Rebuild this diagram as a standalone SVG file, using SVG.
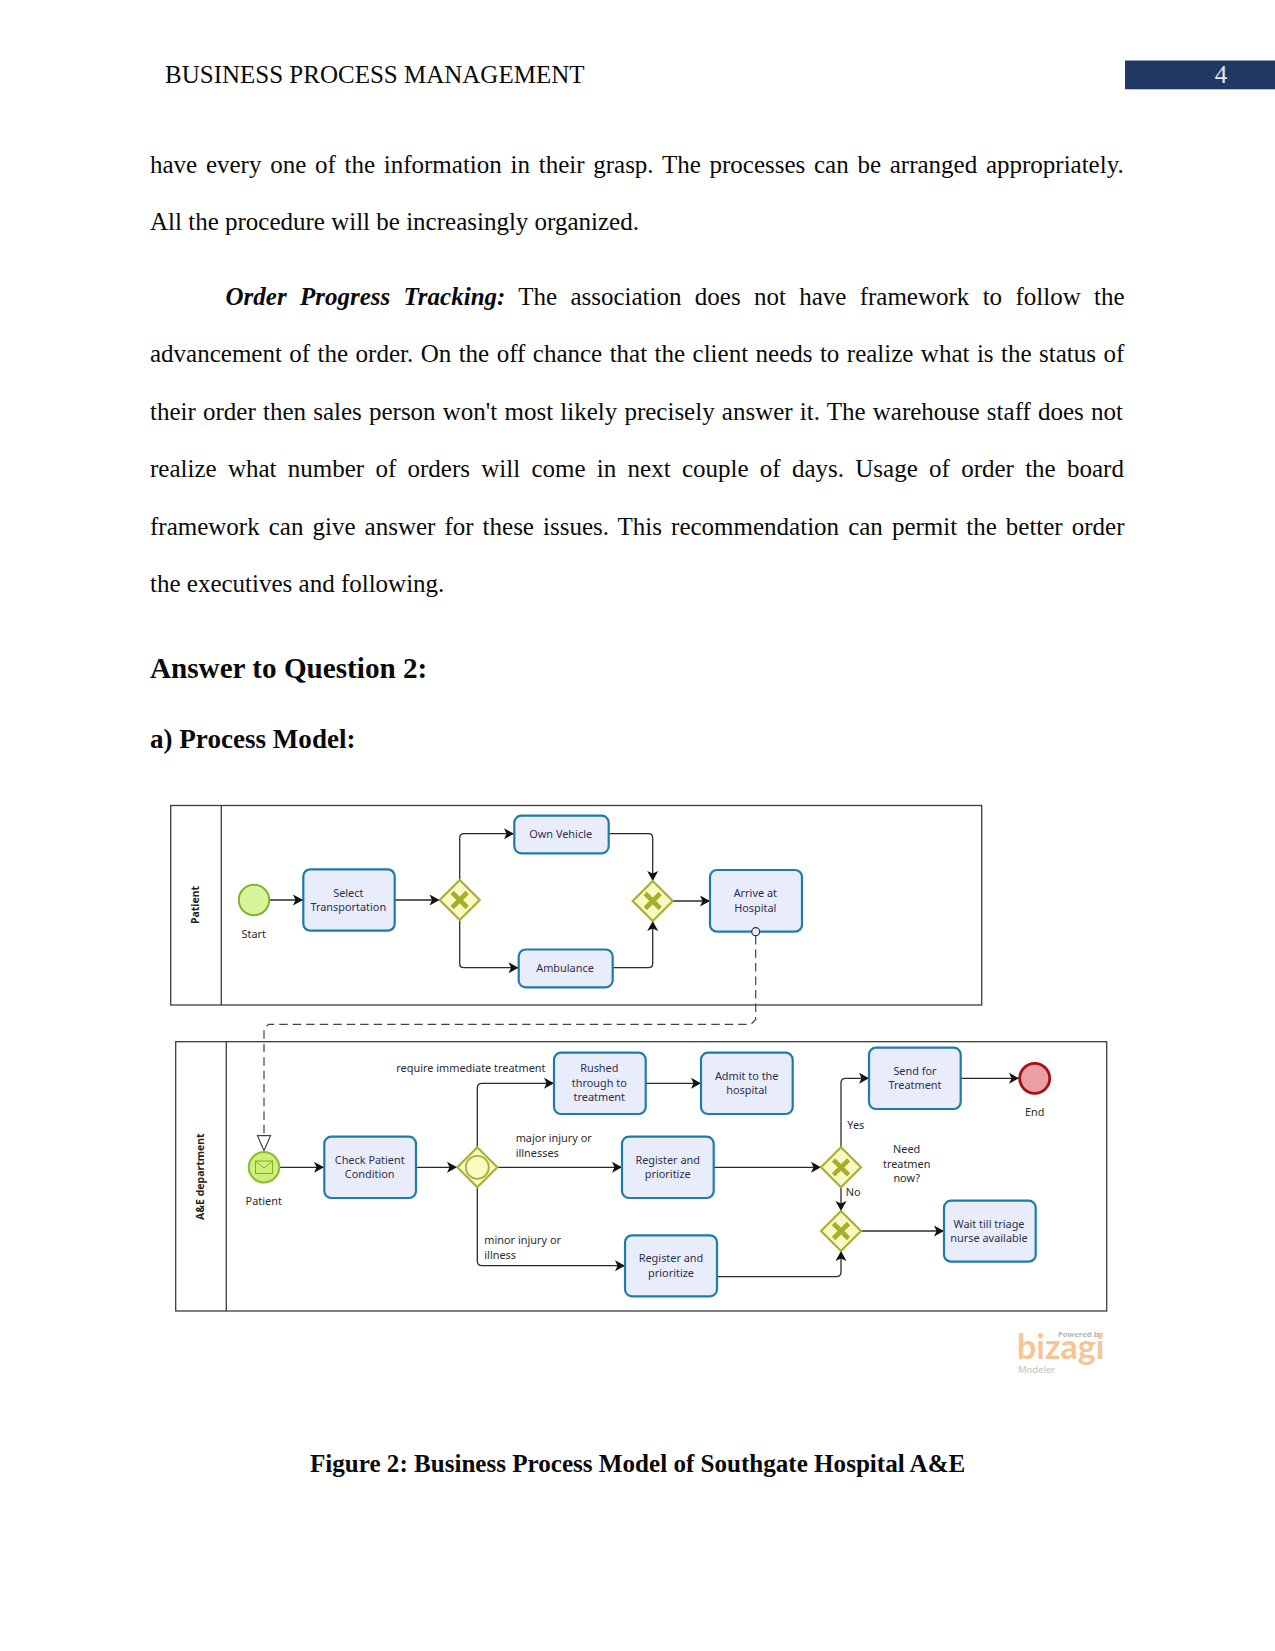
<svg xmlns="http://www.w3.org/2000/svg" width="1275" height="1651" viewBox="0 0 1275 1651">
<style>
.b{font-family:"Liberation Serif","Times New Roman",serif;font-size:25px;fill:#0a0a0a}
.h{font-weight:bold}
.d{font-family:"Noto Sans","Open Sans",sans-serif;font-size:10.9px;fill:#2b2b2b}
.t{font-family:"Noto Sans","Open Sans",sans-serif;font-size:10.9px;fill:#2f2f4a;text-anchor:middle}
.m{text-anchor:middle}
.r{font-family:"Noto Sans","Open Sans",sans-serif;font-size:10.5px;font-weight:bold;fill:#222;text-anchor:middle}
.pool{fill:#fff;stroke:#3c3c3c;stroke-width:1.3}
.task{fill:#e9edfb;stroke:#1f7ba8;stroke-width:2.2}
.gw{fill:#f9f9c4;stroke:#a9b032;stroke-width:2.2}
.x{fill:none;stroke:#a8ad2a;stroke-width:4.6}
.c{fill:none;stroke:#2b2b2b;stroke-width:1.3}
.dash{fill:none;stroke:#444;stroke-width:1.2;stroke-dasharray:8.5 5}
</style>
<defs>
<marker id="arrow" markerUnits="userSpaceOnUse" markerWidth="13" markerHeight="13" refX="10.5" refY="6.5" orient="auto"><path d="M0.5 1 L10.5 6.5 L0.5 12 L3 6.5 Z" fill="#111"/></marker>
<path id="xg" d="M-7.5 -7.5 L7.5 7.5 M-7.5 7.5 L7.5 -7.5" class="x"/>
<path id="dm" d="M0 -20 L20 0 L0 20 L-20 0 Z" class="gw"/>
</defs>
<rect width="1275" height="1651" fill="#fff"/>
<g id="page-text">
<text class="b" x="165" y="82.7">BUSINESS PROCESS MANAGEMENT</text>
<rect x="1125" y="60.5" width="150" height="28.8" fill="#1f3864"/>
<text class="b" x="1221" y="82.7" style="fill:#e4eaf4" text-anchor="middle">4</text>
<text class="b" x="150" y="172.7" word-spacing="2.47">have every one of the information in their grasp. The processes can be arranged appropriately.</text>
<text class="b" x="150" y="229.7">All the procedure will be increasingly organized.</text>
<text class="b" x="225.5" y="305" word-spacing="7.06"><tspan font-weight="bold" font-style="italic">Order Progress Tracking:</tspan> The association does not have framework to follow the</text>
<text class="b" x="150" y="362" word-spacing="1.2">advancement of the order. On the off chance that the client needs to realize what is the status of</text>
<text class="b" x="150" y="419.5" word-spacing="0.94">their order then sales person won't most likely precisely answer it. The warehouse staff does not</text>
<text class="b" x="150" y="477" word-spacing="5.03">realize what number of orders will come in next couple of days. Usage of order the board</text>
<text class="b" x="150" y="534.5" word-spacing="2.8">framework can give answer for these issues. This recommendation can permit the better order</text>
<text class="b" x="150" y="592">the executives and following.</text>
<text class="b h" x="150" y="678.3" style="font-size:29.17px">Answer to Question 2:</text>
<text class="b h" x="150" y="748" style="font-size:27.08px">a) Process Model:</text>
<text class="b h" x="310" y="1471.7" style="font-size:25.08px">Figure 2: Business Process Model of Southgate Hospital A&amp;E</text>
</g>
<g id="pools">
<g id="pool-patient"><rect class="pool" x="170.7" y="805.5" width="811" height="199.5"/><line class="pool" x1="221.3" y1="805.5" x2="221.3" y2="1005"/><text class="r" transform="translate(199.3 905) rotate(-90)">Patient</text></g>
<g id="pool-ae"><rect class="pool" x="175.7" y="1041.7" width="931" height="269.3"/><line class="pool" x1="226.3" y1="1041.7" x2="226.3" y2="1311"/><text class="r" transform="translate(204.3 1176.7) rotate(-90)">A&amp;E department</text></g>
</g>
<g id="connectors">
<path class="c" marker-end="url(#arrow)" d="M269.5 900H303"/>
<path class="c" marker-end="url(#arrow)" d="M395 900H439.5"/>
<path class="c" marker-end="url(#arrow)" d="M459.7 880V838Q459.7 833.7 464 833.7H514"/>
<path class="c" marker-end="url(#arrow)" d="M459.7 920V963.5Q459.7 967.7 464 967.7H518.5"/>
<path class="c" marker-end="url(#arrow)" d="M608.7 833.7H648.5Q652.7 833.7 652.7 838V881"/>
<path class="c" marker-end="url(#arrow)" d="M612.7 967.7H648.5Q652.7 967.7 652.7 963.5V921"/>
<path class="c" marker-end="url(#arrow)" d="M672.7 901H710"/>
<path class="dash" d="M755.7 936V1019.5L751 1024.3H268.5L264 1029V1136"/>
<path d="M257.5 1135.7H270.5L264 1150.7Z" fill="#fff" stroke="#444" stroke-width="1.2"/>
<path class="c" marker-end="url(#arrow)" d="M279.5 1167.3H324"/>
<path class="c" marker-end="url(#arrow)" d="M416 1167.3H457"/>
<path class="c" marker-end="url(#arrow)" d="M477.3 1147.3V1088Q477.3 1083.3 482 1083.3H554"/>
<path class="c" marker-end="url(#arrow)" d="M497.3 1167.3H622"/>
<path class="c" marker-end="url(#arrow)" d="M477.3 1187.3V1261Q477.3 1265.7 482 1265.7H625"/>
<path class="c" marker-end="url(#arrow)" d="M645.7 1083.3H701"/>
<path class="c" marker-end="url(#arrow)" d="M713.7 1167.3H821"/>
<path class="c" marker-end="url(#arrow)" d="M841 1147.3V1083Q841 1078.3 845.7 1078.3H869"/>
<path class="c" marker-end="url(#arrow)" d="M960.7 1078.3H1019"/>
<path class="c" marker-end="url(#arrow)" d="M841 1187.3V1211"/>
<path class="c" marker-end="url(#arrow)" d="M861 1231H944"/>
<path class="c" marker-end="url(#arrow)" d="M717 1276.7H836.5Q841 1276.7 841 1272V1251"/>
</g>
<g id="start"><circle cx="254" cy="900" r="15.2" fill="#d9f59c" stroke="#7fb233" stroke-width="2"/><text class="d m" x="253.7" y="938">Start</text></g>
<g id="select-transportation"><rect class="task" x="303.3" y="869.3" width="91.4" height="61.4" rx="7"/><text class="t" x="348.3" y="896.7">Select</text><text class="t" x="348.3" y="910.9">Transportation</text></g>
<g id="gateway-1"><use href="#dm" x="459.7" y="900"/><use href="#xg" x="459.7" y="900"/></g>
<g id="own-vehicle"><rect class="task" x="514.3" y="815.7" width="94.4" height="37.6" rx="7"/><text class="t" x="560.7" y="838.3">Own Vehicle</text></g>
<g id="ambulance"><rect class="task" x="518.7" y="949.5" width="94" height="37.8" rx="7"/><text class="t" x="565" y="971.7">Ambulance</text></g>
<g id="gateway-2"><use href="#dm" x="652.7" y="901"/><use href="#xg" x="652.7" y="901"/></g>
<g id="arrive"><rect class="task" x="710" y="870" width="92" height="61.7" rx="7"/><text class="t" x="755.3" y="897.3">Arrive at</text><text class="t" x="755.3" y="911.7">Hospital</text><circle cx="755.7" cy="931.7" r="4" fill="#e9edfb" stroke="#333" stroke-width="1.2"/></g>
<g id="message-start"><circle cx="264" cy="1167.3" r="15.2" fill="#cdf07a" stroke="#8cc032" stroke-width="2.2"/><rect x="255.5" y="1161" width="17" height="12.5" fill="none" stroke="#8aa82a" stroke-width="1"/><path d="M255.5 1161L264 1168L272.5 1161" fill="none" stroke="#8aa82a" stroke-width="1"/><text class="d m" x="263.7" y="1205.3">Patient</text></g>
<g id="check-patient"><rect class="task" x="324.3" y="1136.7" width="91.7" height="61.3" rx="7"/><text class="t" x="369.7" y="1164">Check Patient</text><text class="t" x="369.7" y="1178.3">Condition</text></g>
<g id="gateway-3"><use href="#dm" x="477.3" y="1167.3"/><circle cx="477.3" cy="1167.3" r="11.5" fill="#f9f9c4" stroke="#a9b032" stroke-width="1.8"/></g>
<g id="rushed"><rect class="task" x="554" y="1052.7" width="91.7" height="61.3" rx="7"/><text class="t" x="599.3" y="1072">Rushed</text><text class="t" x="599.3" y="1086.7">through to</text><text class="t" x="599.3" y="1101">treatment</text></g>
<g id="admit"><rect class="task" x="701" y="1052.7" width="91.7" height="61.3" rx="7"/><text class="t" x="746.7" y="1080">Admit to the</text><text class="t" x="746.7" y="1094">hospital</text></g>
<g id="register-1"><rect class="task" x="622" y="1136.7" width="91.7" height="61.3" rx="7"/><text class="t" x="667.7" y="1164">Register and</text><text class="t" x="667.7" y="1178.3">prioritize</text></g>
<g id="register-2"><rect class="task" x="625" y="1235.3" width="92" height="61" rx="7"/><text class="t" x="671" y="1262.3">Register and</text><text class="t" x="671" y="1276.7">prioritize</text></g>
<g id="gateway-4"><use href="#dm" x="841" y="1167.3"/><use href="#xg" x="841" y="1167.3"/></g>
<g id="gateway-5"><use href="#dm" x="841" y="1231"/><use href="#xg" x="841" y="1231"/></g>
<g id="send"><rect class="task" x="869" y="1047.7" width="91.7" height="61.3" rx="7"/><text class="t" x="915" y="1074.7">Send for</text><text class="t" x="915" y="1089">Treatment</text></g>
<g id="end"><circle cx="1034.7" cy="1078.3" r="15" fill="#ec9fa2" stroke="#a80f14" stroke-width="2.8"/><text class="d m" x="1034.7" y="1116.3">End</text></g>
<g id="wait"><rect class="task" x="944" y="1200.7" width="91.7" height="61" rx="7"/><text class="t" x="989" y="1228">Wait till triage</text><text class="t" x="989" y="1242">nurse available</text></g>
<g id="labels">
<text class="d" x="396.3" y="1072">require immediate treatment</text>
<text class="d" x="515.7" y="1141.7">major injury or</text><text class="d" x="515.7" y="1156.7">illnesses</text>
<text class="d" x="484.3" y="1244">minor injury or</text><text class="d" x="484.3" y="1259">illness</text>
<text class="d" x="847.3" y="1129.3">Yes</text><text class="d" x="845.7" y="1196">No</text>
<text class="d m" x="906.7" y="1152.7">Need</text><text class="d m" x="906.7" y="1167.7">treatmen</text><text class="d m" x="906.7" y="1182">now?</text>
</g>
<g id="logo">
<text x="1103" y="1337" text-anchor="end" font-family="Noto Sans, sans-serif" font-size="7.8" font-weight="bold" fill="#b5b5b5">Powered by</text>
<text x="1017" y="1359" font-family="Lato, sans-serif" font-size="34" fill="#f4c694" font-weight="bold">bizagi</text>
<text x="1018" y="1373" font-family="Noto Sans, sans-serif" font-size="9.5" fill="#c2c2c2">Modeler</text>
</g>
</svg>
